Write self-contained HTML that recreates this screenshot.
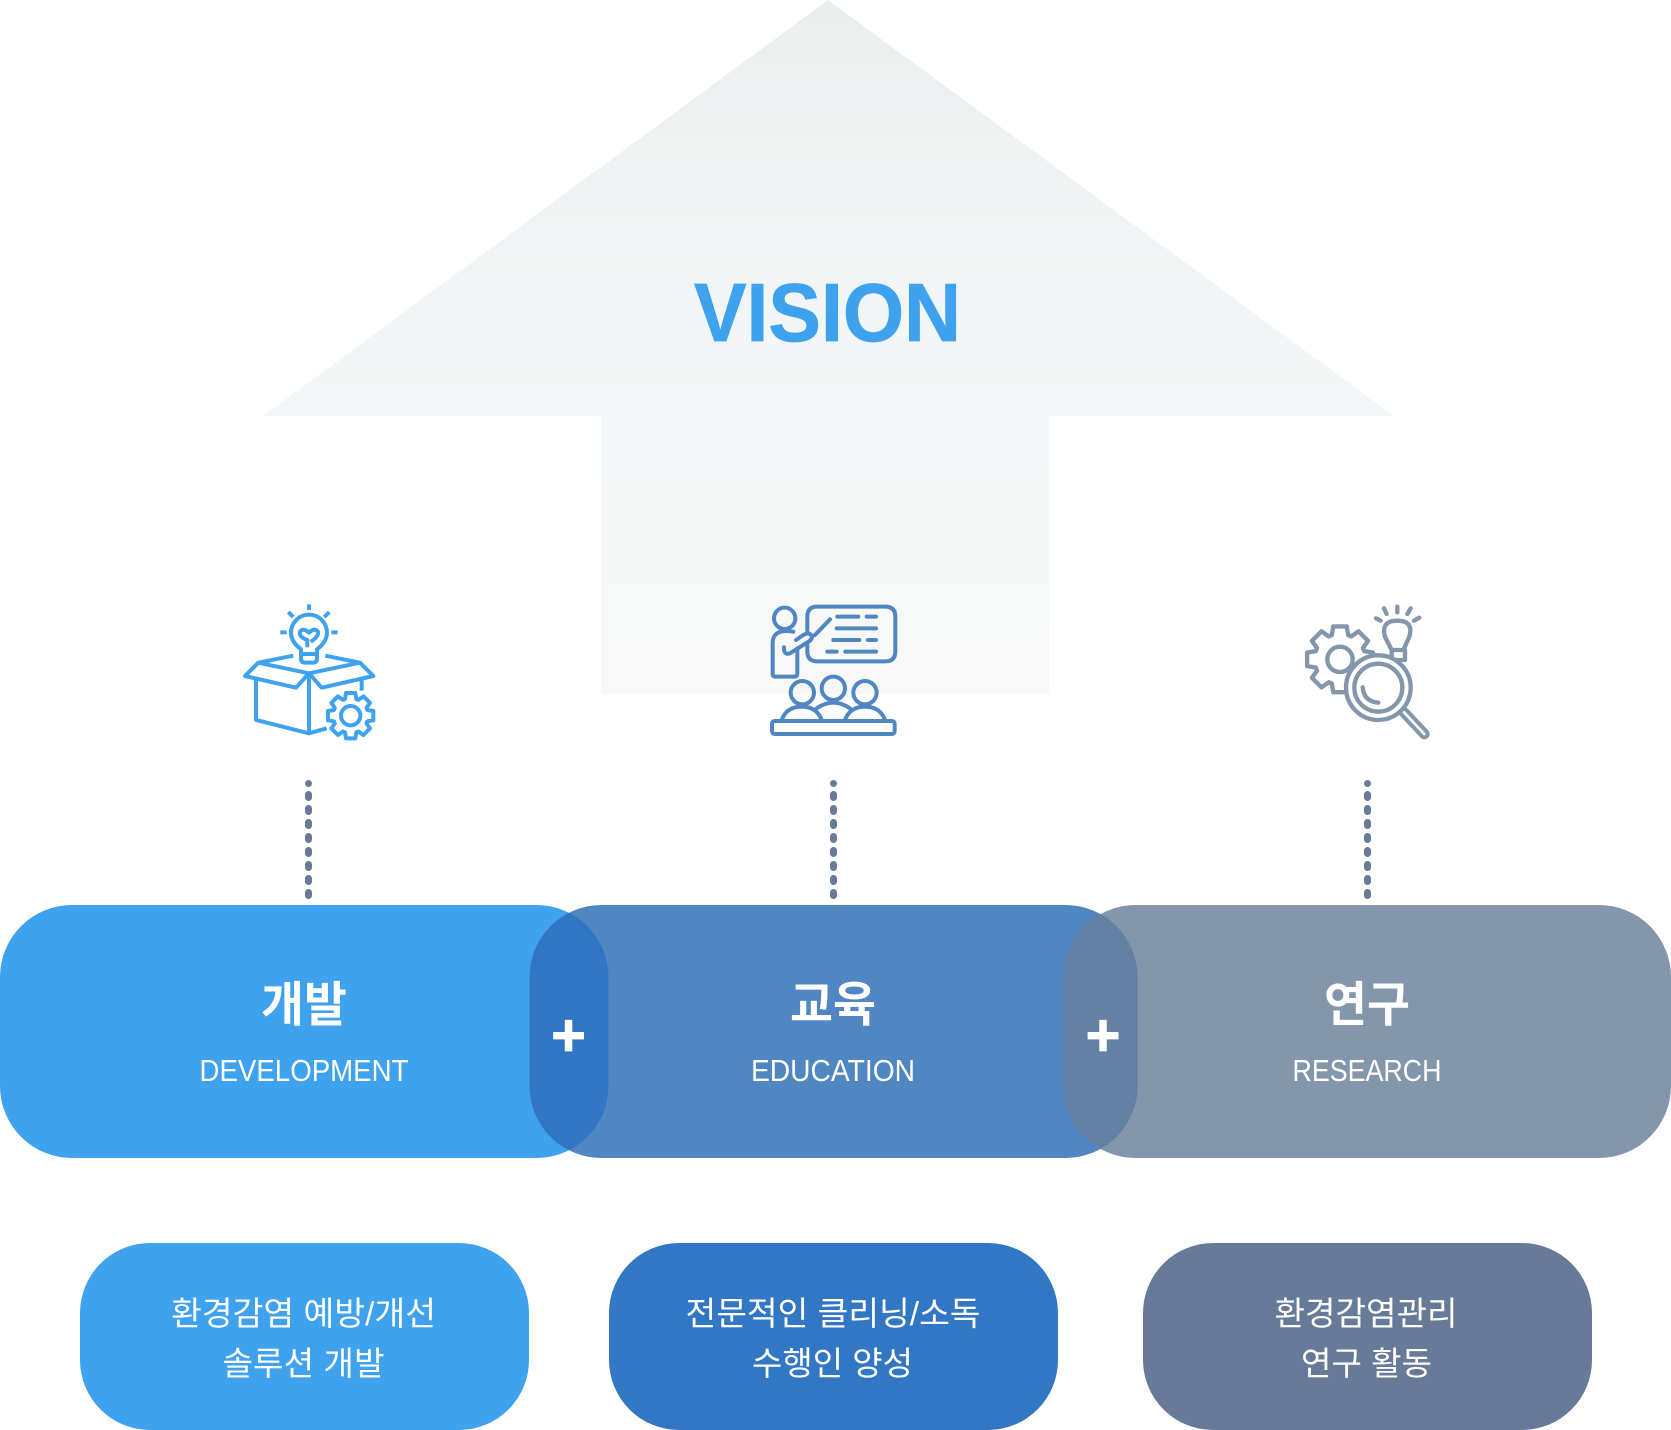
<!DOCTYPE html>
<html lang="ko">
<head>
<meta charset="utf-8">
<title>VISION</title>
<style>
html,body{margin:0;padding:0;background:#fff;width:1671px;height:1430px;overflow:hidden}
svg{display:block}
text{font-family:"Liberation Sans","Noto Sans CJK KR",sans-serif;fill:#fff;text-anchor:middle}
</style>
</head>
<body>
<svg xmlns="http://www.w3.org/2000/svg" width="1671" height="1430" viewBox="0 0 1671 1430">
<defs>
<linearGradient id="g" gradientUnits="userSpaceOnUse" x1="0" y1="0" x2="0" y2="694">
<stop offset="0" stop-color="#eaeeed"/><stop offset=".35" stop-color="#f1f4f4"/><stop offset=".65" stop-color="#f5f8f8"/><stop offset="1" stop-color="#f8f8f8"/>
</linearGradient>
<clipPath id="c1"><rect x="0" y="905" width="608.5" height="253" rx="72"/></clipPath>
<clipPath id="c2"><rect x="529.5" y="905" width="608" height="253" rx="72"/></clipPath>
<path id="gear" d="M50-17 68-14 68 14 50 17 47.4 23.3 58 38.2 38.2 58 23.3 47.4 17 50 14 68-14 68-17 50-23.3 47.4-38.2 58-58 38.2-47.4 23.3-50 17-68 14-68-14-50-17-47.4-23.3-58-38.2-38.2-58-23.3-47.4-17-50-14-68 14-68 17-50 23.3-47.4 38.2-58 58-38.2 47.4-23.3Z"/>
</defs>

<path d="M828 0 1394 416H1049V694H601V416H263Z" fill="url(#g)"/>
<text x="827.5" y="341" font-size="83" font-weight="700" style="fill:#3ea2ee;stroke:#3ea2ee;stroke-width:.8" textLength="267" lengthAdjust="spacingAndGlyphs">VISION</text>

<!-- icon 1 -->
<g transform="translate(220 590) scale(.3333)" fill="none" stroke="#3ea2ee" stroke-width="12" stroke-linejoin="round">
<path d="M243 178Q213 155 213 128A54 54 0 0 1 321 128Q321 155 291 178V205Q291 218 278 218H256Q243 218 243 205Z"/>
<path d="M243 192H291M262 172V150Q235 140 240 125Q250 112 267 128Q284 112 294 125Q297 140 272 155"/>
<path d="M267 43V60M205 66 220 81M328 66 313 81M181 127H200M334 127H353"/>
<path d="M220 197 115 218 75 258 228 293 267 250 305 293 460 258 420 218 316 197M115 218 267 250 420 218"/>
<path d="M108 268V390L267 430 320 415M267 250V430M425 270V302"/>
<use href="#gear" transform="translate(392 377)"/>
<circle cx="392" cy="377" r="29"/>
</g>

<!-- icon 2 -->
<g transform="translate(750 590) scale(.3333)" fill="none" stroke="#5087c3" stroke-width="12" stroke-linecap="round" stroke-linejoin="round">
<circle cx="104" cy="85" r="32"/>
<path d="M130 125Q68 115 68 160V250Q68 260 78 260H132Q142 260 142 250V175"/>
<path d="M102 172V180Q105 195 120 190L180 152Q192 140 180 132Q172 128 160 135L138 150"/>
<path d="M195 135 240 88"/>
<path d="M172 125V80Q172 50 202 50H406Q436 50 436 80V184Q436 214 406 214H202Q172 214 172 184V160"/>
<path d="M262 80H325M350 80H378M260 115H378M250 150H328M354 150H378M232 185H260M286 185H378"/>
<circle cx="157" cy="308" r="35"/><circle cx="250" cy="295" r="35"/><circle cx="345" cy="308" r="35"/>
<path d="M95 390Q110 350 155 350Q200 350 215 390M200 355Q225 338 250 338Q275 338 300 355M285 390Q300 350 345 350Q390 350 405 390"/>
<rect x="66" y="393" width="368" height="39" rx="8"/>
</g>

<!-- icon 3 -->
<g transform="translate(1290 590) scale(.3333)" fill="none" stroke="#8496ab" stroke-width="13" stroke-linecap="round" stroke-linejoin="round">
<use href="#gear" transform="translate(150 208) scale(1.45)" stroke-width="9"/>
<circle cx="150" cy="208" r="38"/>
<path d="M305 180 285 140Q272 92 322 92Q372 92 358 140L340 180"/>
<rect x="305" y="180" width="40" height="30"/>
<path d="M258 85 272 92M282 55 290 72M322 50V67M362 55 352 72M388 83 372 92"/>
<path d="M342 367 403 432" stroke-width="32"/>
<path d="M342 367 403 432" stroke="#fff" stroke-width="8"/>
<circle cx="265" cy="293" r="97" fill="#fff"/>
<circle cx="265" cy="293" r="72"/>
<path d="M218 292Q222 335 265 338"/>
</g>

<!-- dots -->
<g fill="#677b98">
<g id="d1"><rect x="305" y="780" width="7" height="7" rx="3.5"/><rect x="305" y="791" width="7" height="10" rx="3.5"/><rect x="305" y="805" width="7" height="10" rx="3.5"/><rect x="305" y="819" width="7" height="10" rx="3.5"/><rect x="305" y="833" width="7" height="10" rx="3.5"/><rect x="305" y="847" width="7" height="10" rx="3.5"/><rect x="305" y="861" width="7" height="10" rx="3.5"/><rect x="305" y="875" width="7" height="10" rx="3.5"/><rect x="305" y="889" width="7" height="10" rx="3.5"/></g>
<use href="#d1" x="525"/>
<use href="#d1" x="1059"/>
</g>

<!-- pills -->
<rect x="0" y="905" width="608.5" height="253" rx="72" fill="#3ea2ee"/>
<rect x="1063.5" y="905" width="607.5" height="253" rx="72" fill="#8496ab"/>
<rect x="529.5" y="905" width="608" height="253" rx="72" fill="#5087c3"/>
<g clip-path="url(#c1)"><rect x="529.5" y="905" width="608" height="253" rx="72" fill="#3176c3"/></g>
<g clip-path="url(#c2)"><rect x="1063.5" y="905" width="607.5" height="253" rx="72" fill="#6480a3"/></g>

<text x="568.5" y="1056" font-size="60" font-weight="700" style="stroke:#fff;stroke-width:.8">+</text>
<text x="1103" y="1056" font-size="60" font-weight="700" style="stroke:#fff;stroke-width:.8">+</text>

<text x="304" y="1021" font-size="48" font-weight="700" textLength="86" lengthAdjust="spacingAndGlyphs">개발</text>
<text x="304" y="1081" font-size="31" textLength="209" lengthAdjust="spacingAndGlyphs">DEVELOPMENT</text>
<text x="833" y="1021" font-size="48" font-weight="700" textLength="86" lengthAdjust="spacingAndGlyphs">교육</text>
<text x="833" y="1081" font-size="31" textLength="164" lengthAdjust="spacingAndGlyphs">EDUCATION</text>
<text x="1367" y="1021" font-size="48" font-weight="700" textLength="86" lengthAdjust="spacingAndGlyphs">연구</text>
<text x="1367" y="1081" font-size="31" textLength="149" lengthAdjust="spacingAndGlyphs">RESEARCH</text>

<rect x="80" y="1243" width="449" height="187" rx="70" fill="#3ea2ee"/>
<rect x="609" y="1243" width="449" height="187" rx="70" fill="#3277c4"/>
<rect x="1143" y="1243" width="449" height="187" rx="70" fill="#677b98"/>

<g font-size="33">
<text x="303.5" y="1325" textLength="265" lengthAdjust="spacingAndGlyphs">환경감염 예방/개선</text>
<text x="303.5" y="1375" textLength="162" lengthAdjust="spacingAndGlyphs">솔루션 개발</text>
<text x="833" y="1325" textLength="295" lengthAdjust="spacingAndGlyphs">전문적인 클리닝/소독</text>
<text x="832.5" y="1375" textLength="161" lengthAdjust="spacingAndGlyphs">수행인 양성</text>
<text x="1366" y="1325" textLength="183" lengthAdjust="spacingAndGlyphs">환경감염관리</text>
<text x="1366.5" y="1375" textLength="131" lengthAdjust="spacingAndGlyphs">연구 활동</text>
</g>
</svg>
</body>
</html>
